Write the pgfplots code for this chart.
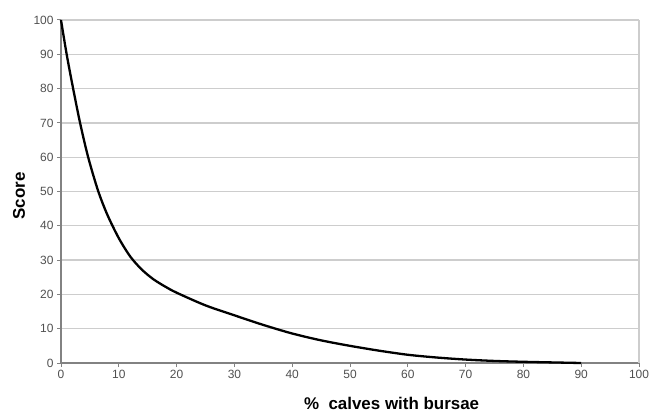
\documentclass[border=0pt]{standalone}
\usepackage{pgfplots}
\pgfplotsset{compat=1.18}
\usepackage{fontspec}
\setmainfont{Liberation Sans}
\definecolor{gridgray}{RGB}{205,205,205}
\definecolor{axgray}{RGB}{130,130,130}
\definecolor{ticktext}{RGB}{80,80,80}
\begin{document}
\begin{tikzpicture}
\path[use as bounding box] (0,0) rectangle (650bp,412bp);
\begin{axis}[
  at={(61bp,49bp)}, anchor=south west,
  scale only axis,
  width=578bp, height=343bp,
  xmin=0, xmax=100, ymin=0, ymax=100,
  xtick={0,10,...,100}, ytick={0,10,...,100},
  axis lines*=left,
  axis line style={draw=axgray, line width=1.2bp},
  tick style={draw=axgray, line width=1bp},
  tick align=outside, major tick length=4bp,
  ymajorgrids=true,
  grid style={draw=gridgray, line width=1.3bp},
  /pgf/number format/assume math mode=true,
  tick label style={font=\fontsize{12}{14}\selectfont, text=ticktext},
  xlabel={\%\ \ calves with bursae},
  ylabel={Score},
  label style={font=\fontsize{17}{20}\selectfont\bfseries, text=black},
  xlabel style={at={(axis description cs:0.572,0)}, anchor=base, yshift=-46bp},
  ylabel style={at={(axis description cs:0,0.487)}, anchor=center, yshift=42bp},
  clip=false,
]
\draw[gridgray, line width=1.2bp] (rel axis cs:1,0) -- (rel axis cs:1,1);
\addplot[black, line width=2.3bp, smooth, tension=0.5] coordinates {
  (0,100) (0.98,90) (2.1,80) (3.3,70) (4.7,60) (6.4,50.3) (8,43.3)
  (10,36.4) (12,31) (14,27.2) (16,24.4) (18,22.3) (20,20.5) (25,16.8)
  (30,13.9) (35,11.1) (40,8.6) (45,6.6) (50,5.0) (55,3.6) (60,2.4)
  (65,1.6) (70,1.0) (75,0.6) (80,0.35) (87,0.1) (90,0)
};
\end{axis}
\end{tikzpicture}
\end{document}
